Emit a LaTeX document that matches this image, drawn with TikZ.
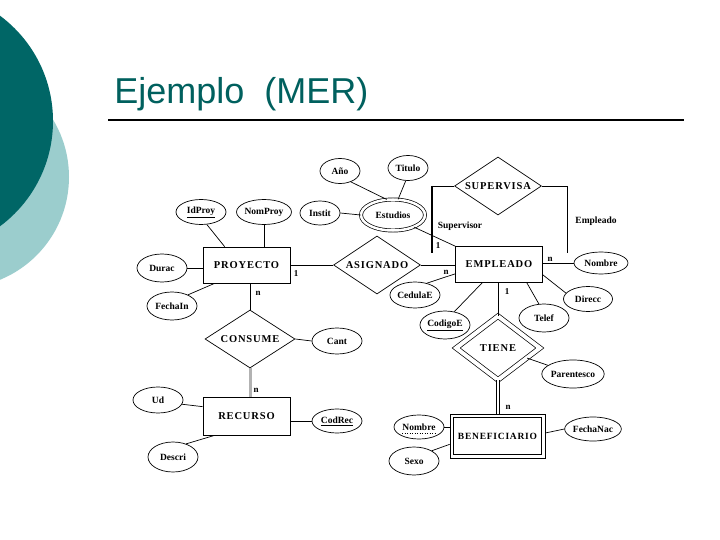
\documentclass[tikz,border=0pt]{standalone}
\usepackage{fontspec}
\setmainfont{Liberation Serif}
\newfontfamily\titlefont{Liberation Sans}
\newfontfamily\erspaced{Liberation Serif}[LetterSpace=8]
\usetikzlibrary{shapes.geometric,calc}
\definecolor{darkteal}{RGB}{0,102,102}
\definecolor{lightteal}{RGB}{155,205,205}
\definecolor{titleteal}{RGB}{0,96,94}
\tikzset{
  ent/.style={draw, rectangle, inner sep=0pt, minimum width=87pt, minimum height=36pt,
    font=\erspaced\bfseries\fontsize{10.5}{12}\selectfont},
  weakent/.style={ent, minimum width=95pt, minimum height=44pt,
    font=\erspaced\bfseries\fontsize{9.5}{11}\selectfont},
  rel/.style={draw, diamond, aspect=1.5, inner sep=0pt, minimum width=87pt, minimum height=58pt,
    font=\erspaced\bfseries\fontsize{10.5}{12}\selectfont},
  weakrel/.style={rel, double, double distance=4pt, minimum width=84pt, minimum height=64pt},
  attr/.style={draw, ellipse, inner sep=0pt, minimum width=50pt, minimum height=26pt,
    font=\bfseries\fontsize{9.5}{11}\selectfont},
  card/.style={inner sep=0pt, font=\bfseries\fontsize{9}{10}\selectfont},
  rolelbl/.style={inner sep=0pt, font=\bfseries\fontsize{9.5}{11}\selectfont},
}
\begin{document}
\begin{tikzpicture}[x=1pt, y=-1pt, line width=0.7pt]
\useasboundingbox (0,0) rectangle (720,540);
\clip (0,0) rectangle (720,540);
% background decoration
\fill[lightteal] (-42,177) circle[radius=111pt];
\fill[darkteal] (-78,121) circle[radius=131pt];
% title
\node[anchor=base west, inner sep=0pt, text=titleteal,
  font=\titlefont\fontsize{36}{40}\selectfont] (title) at (114,104) {Ejemplo\ \ (MER)};
\draw[line width=2pt] (108,120) -- (684,120);

% entities
\node[ent] (proy) at (246.5,265) {PROYECTO};
\node[ent] (emp) at (499,264.5) {EMPLEADO};
\node[ent, minimum height=38pt] (rec) at (246.5,416) {RECURSO};
\node[weakent] (ben) at (497.5,436) {BENEFICIARIO};
\draw ([shift={(4pt,4pt)}]ben.south west) rectangle ([shift={(-4pt,-4pt)}]ben.north east);

% relationships
\node[rel] (asig) at (377,265) {ASIGNADO};
\node[rel] (sup) at (498,186) {SUPERVISA};
\node[rel, minimum width=90pt] (cons) at (250,339) {CONSUME};
\node[weakrel] (tiene) at (498,348) {TIENE};

% attributes
\node[attr, minimum height=25pt] (idproy) at (201,212) {\underline{IdProy}};
\node[attr, minimum height=25pt] (nomproy) at (264,212) {NomProy};
\node[attr, minimum width=40pt, minimum height=24pt] (instit) at (320,213) {Instit};
\node[attr, double, double distance=2.5pt, minimum width=64pt, minimum height=31pt] (estud) at (393,215) {Estudios};
\node[attr, minimum width=40pt, minimum height=25pt] (ano) at (340,171) {Año};
\node[attr, minimum width=40pt, minimum height=25pt] (titulo) at (408,168) {Titulo};
\node[attr, minimum height=28pt] (durac) at (162,268) {Durac};
\node[attr, minimum height=28pt] (fechain) at (172,306) {FechaIn};
\node[attr, minimum width=46pt] (cedula) at (415,295) {CedulaE};
\node[attr, minimum width=48pt, minimum height=28pt] (codigo) at (445,325) {\underline{CodigoE}};
\node[attr, minimum width=54pt, minimum height=22pt] (nombre) at (601,263) {Nombre};
\node[attr, minimum width=49pt, minimum height=25pt] (direcc) at (588,299) {Direcc};
\node[attr, minimum height=28pt] (telef) at (544,318) {Telef};
\node[attr, minimum width=52pt, minimum height=28pt] (parent) at (573,374) {Parentesco};
\node[attr] (cant) at (337,341) {Cant};
\node[attr] (ud) at (158,400) {Ud};
\node[attr, minimum height=24pt] (codrec) at (337,421) {\underline{CodRec}};
\node[attr, minimum height=30pt] (descri) at (173,457) {Descri};
\node[attr, minimum height=24pt] (nombreb) at (419,427) {Nombre};
\draw[dotted, line width=0.5pt] ([xshift=-17pt,yshift=-6pt]nombreb.center) -- ([xshift=17pt,yshift=-6pt]nombreb.center);
\node[attr, minimum height=28pt] (sexo) at (414,461) {Sexo};
\node[attr, minimum width=52pt, minimum height=24pt] (fechanac) at (593,429) {FechaNac};

% connectors: PROYECTO
\draw (idproy.-65) -- ([xshift=22pt]proy.north west);
\draw (nomproy.south) -- (nomproy.south |- proy.north);
\draw (durac.east) -- (durac.east -| proy.west);
\draw (fechain.35) -- ([xshift=12pt]proy.south west);
\draw (proy.east) -- (asig.west);
\draw (asig.east) -- (asig.east -| emp.west);
\draw (cons.north |- proy.south) -- (cons.north);
\draw[line width=3pt, gray!60] (cons.south) -- (cons.south |- rec.north);
\draw (cons.east) -- (cant.west);
% RECURSO
\draw (ud.-10) -- ([yshift=-10pt]rec.north west);
\draw (descri.45) -- ([xshift=12pt]rec.south west);
\draw (codrec.west -| rec.east) -- (codrec.west);
% EMPLEADO
\draw (instit.east) -- (estud.west);
\draw (ano.-45) -- (estud.112);
\draw (titulo.-100) -- (estud.72);
\draw (estud.-30) -- (emp.north west);
\coordinate (supl) at (432,186);
\coordinate (suplb) at (432,253);
\coordinate (supr) at (567,186);
\coordinate (suprb) at (567,253);
\draw (sup.west) -- (supl);
\draw[line width=2.5pt] (supl) -- (suplb);
\draw (sup.east) -- (supr) -- (suprb);
\draw (emp.east |- nombre.west) -- (nombre.west);
\draw ([yshift=8pt]emp.south east) -- (direcc.165);
\draw ([xshift=-16pt]emp.south east) -- (telef.110);
\draw ([xshift=27pt]emp.south west) -- (codigo.55);
\draw ([yshift=9pt]emp.south west) -- (cedula.45);
\draw (tiene.north |- emp.south) -- (tiene.north);
\draw[double, double distance=2pt] (tiene.south) -- (tiene.south |- ben.north);
\draw (tiene) -- (parent);
% BENEFICIARIO
\draw (nombreb.east) -- (nombreb.east -| ben.west);
\draw (sexo.30) -- ([yshift=14pt]ben.south west);
\draw ([yshift=3pt]ben.east) -- (fechanac.west);

% cardinalities and roles
\node[card] (c1) at (296,274) {1};
\node[card] (c2) at (446,272) {n};
\node[card] (c3) at (258,293) {n};
\node[card] (c4) at (256,390) {n};
\node[card] (c5) at (507,292) {1};
\node[card] (c6) at (508,407) {n};
\node[card] (c7) at (550,259) {n};
\node[card] (c8) at (438,246) {1};
\node[rolelbl] (rsup) at (460,226) {Supervisor};
\node[rolelbl] (remp) at (596,221) {Empleado};
\end{tikzpicture}
\end{document}
